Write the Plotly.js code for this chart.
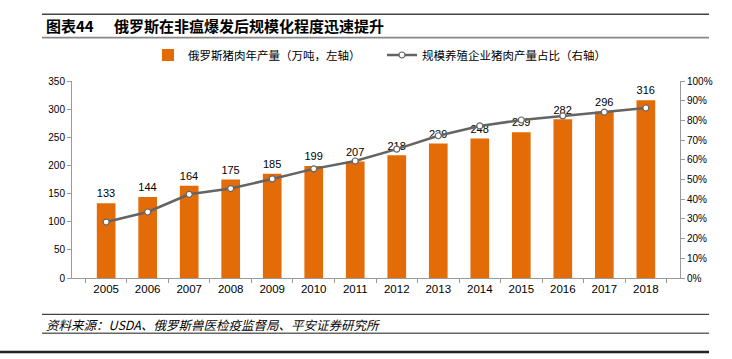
<!DOCTYPE html>
<html>
<head>
<meta charset="utf-8">
<script src="https://cdn.plot.ly/plotly-3.0.1.min.js"></script>
<style>html,body{margin:0;padding:0;background:#fff;}#chart{width:732px;height:359px;}</style>
</head>
<body>
<div id="chart"></div>
<script>
// ---- data ----
const years = ['2005','2006','2007','2008','2009','2010','2011','2012','2013','2014','2015','2016','2017','2018'];
const porkOutput = [133,144,164,175,185,199,207,218,239,248,259,282,296,316];      // 万吨 (left axis)
const scaleShare = [28.4,33.5,42.5,45.4,50.3,55.4,59.4,65.4,72.2,77.2,80.2,82.3,84.2,86.3]; // % (right axis)
const seriesNames = ['俄罗斯猪肉年产量（万吨，左轴）','规模养殖企业猪肉产量占比（右轴）'];
const titleLabel = '图表44';
const titleText = '俄罗斯在非瘟爆发后规模化程度迅速提升';
const sourceText = '资料来源：USDA、俄罗斯兽医检疫监督局、平安证券研究所';

// ---- layout helpers (pixel -> paper) ----
const W = 732, H = 359;
const M = {l:72, r:52, t:81, b:81};
const pw = W - M.l - M.r, ph = H - M.t - M.b;
const px = x => (x - M.l) / pw;
const py = y => (H - M.b - y) / ph;

const FONT = 'Liberation Sans, Arial, "Noto Sans CJK SC", sans-serif';
const CJK = '"Noto Sans CJK SC", "Liberation Sans", sans-serif';

const bars = {
  type:'bar', x:years, y:porkOutput, name:seriesNames[0],
  marker:{color:'#E36C09'}, text:porkOutput.map(String), textposition:'outside',
  textfont:{family:FONT, size:12, color:'#000'}, cliponaxis:false, hoverinfo:'x+y'
};
const line = {
  type:'scatter', mode:'lines+markers', x:years, y:scaleShare, yaxis:'y2', name:seriesNames[1],
  line:{color:'#646464', width:2.5}, marker:{symbol:'circle', size:6, color:'#fff', line:{color:'#646464', width:1.2}}
};

function hline(x0,x1,y,color,width){
  return {type:'line', xref:'paper', yref:'paper', x0:px(x0), x1:px(x1), y0:py(y), y1:py(y), line:{color:color, width:width}};
}

const layout = {
  width:W, height:H, margin:M, paper_bgcolor:'#fff', plot_bgcolor:'#fff',
  bargap:0.55, showlegend:true,
  font:{family:FONT, color:'#000'},
  legend:{orientation:'h', x:px(148), xanchor:'left', y:py(55), yanchor:'middle',
          font:{family:CJK, size:11.5, color:'#000'}, bgcolor:'rgba(0,0,0,0)', itemclick:false, entrywidth:189, entrywidthmode:'pixels'},
  xaxis:{type:'category', showline:true, linecolor:'#9a9a9a', linewidth:1, ticks:'outside', tickson:'boundaries',
         ticklen:4, tickcolor:'#9a9a9a', tickfont:{family:FONT, size:11.5, color:'#000'}, showgrid:false, zeroline:false},
  yaxis:{range:[0,350], dtick:50, showline:true, linecolor:'#9a9a9a', linewidth:1, ticks:'outside', ticklen:4,
         tickcolor:'#9a9a9a', tickfont:{family:FONT, size:10, color:'#000'}, showgrid:false, zeroline:false},
  yaxis2:{range:[0,100], dtick:10, ticksuffix:'%', overlaying:'y', side:'right', showline:true, linecolor:'#9a9a9a',
          linewidth:1, ticks:'outside', ticklen:4, tickcolor:'#9a9a9a', tickfont:{family:FONT, size:10, color:'#000'},
          showgrid:false, zeroline:false},
  shapes:[
    hline(42,709,14.3,'#444',1.5),
    hline(42,709,37.7,'#888',1.8),
    hline(42,709,314.3,'#444',1.2),
    hline(42,709,333.3,'#666',1.5),
    hline(0,709,352,'#222',2.5)
  ],
  annotations:[
    {xref:'paper', yref:'paper', x:px(44), y:py(26), xanchor:'left', yanchor:'middle', showarrow:false,
     text:'<b>'+titleLabel+'</b>', font:{family:CJK, size:15, color:'#000'}},
    {xref:'paper', yref:'paper', x:px(112), y:py(26), xanchor:'left', yanchor:'middle', showarrow:false,
     text:'<b>'+titleText+'</b>', font:{family:CJK, size:15, color:'#000'}},
    {xref:'paper', yref:'paper', x:px(44), y:py(324), xanchor:'left', yanchor:'middle', showarrow:false,
     text:'<i>'+sourceText+'</i>', font:{family:CJK, size:12.5, color:'#000'}}
  ]
};

Plotly.newPlot('chart', [bars, line], layout, {displayModeBar:false, staticPlot:true});
</script>
</body>
</html>
